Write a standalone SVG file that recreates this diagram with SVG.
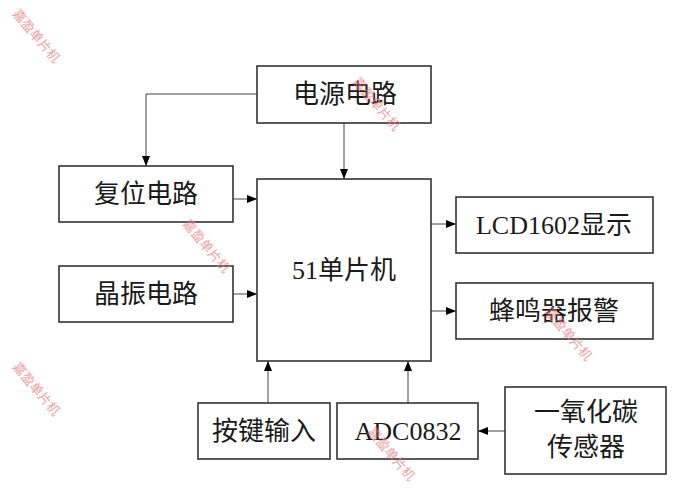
<svg xmlns="http://www.w3.org/2000/svg" width="692" height="498" viewBox="0 0 692 498">
<style>
.box{fill:#fff;stroke:#333;stroke-width:1.6}
.lbl{font-family:"Liberation Serif","Noto Sans CJK SC",serif;font-size:26px;fill:#1a1a1a;text-anchor:middle}
.conn{fill:none;stroke:#444;stroke-width:1}
.wm{font-family:"Noto Sans CJK SC",sans-serif;font-size:13px;fill:#e88080;opacity:0.75}
</style>
<defs>
<marker id="arr" viewBox="0 0 10 8" refX="10" refY="4" markerWidth="10" markerHeight="8" markerUnits="userSpaceOnUse" orient="auto">
<path d="M0,0 L10,4 L0,8 Z" fill="#000"/>
</marker>
</defs>
<rect width="692" height="498" fill="#fff"/>
<g id="connectors">
<path class="conn" d="M257,94 H146 V166" marker-end="url(#arr)"/>
<path class="conn" d="M344,123 V179" marker-end="url(#arr)"/>
<path class="conn" d="M233,199 H257" marker-end="url(#arr)"/>
<path class="conn" d="M233,294 H257" marker-end="url(#arr)"/>
<path class="conn" d="M431,224 H456" marker-end="url(#arr)"/>
<path class="conn" d="M431,311 H456" marker-end="url(#arr)"/>
<path class="conn" d="M268,403 V361" marker-end="url(#arr)"/>
<path class="conn" d="M408,403 V361" marker-end="url(#arr)"/>
<path class="conn" d="M505,431 H478" marker-end="url(#arr)"/>
</g>
<g id="power"><rect class="box" x="257" y="66" width="174" height="57"/><text class="lbl" x="345" y="103">电源电路</text></g>
<g id="reset"><rect class="box" x="59" y="166" width="174" height="56"/><text class="lbl" x="146" y="203">复位电路</text></g>
<g id="mcu"><rect class="box" x="257" y="179" width="174" height="182"/><text class="lbl" x="344" y="279">51单片机</text></g>
<g id="crystal"><rect class="box" x="59" y="266" width="174" height="56"/><text class="lbl" x="146" y="303">晶振电路</text></g>
<g id="lcd"><rect class="box" x="456" y="197" width="197" height="56"/><text class="lbl" x="554" y="234">LCD1602显示</text></g>
<g id="buzzer"><rect class="box" x="456" y="283" width="197" height="56"/><text class="lbl" x="554" y="320">蜂鸣器报警</text></g>
<g id="keys"><rect class="box" x="198" y="403" width="132" height="56"/><text class="lbl" x="264" y="440">按键输入</text></g>
<g id="adc"><rect class="box" x="337" y="403" width="141" height="56"/><text class="lbl" x="408" y="440">ADC0832</text></g>
<g id="sensor"><rect class="box" x="505" y="387" width="161" height="87"/><text class="lbl" x="586" y="421">一氧化碳</text><text class="lbl" x="586" y="456">传感器</text></g>
<g id="watermarks">
<text class="wm" transform="translate(12,14) rotate(50)">嘉盈单片机</text>
<text class="wm" transform="translate(352,82) rotate(50)">嘉盈单片机</text>
<text class="wm" transform="translate(182,224) rotate(50)">嘉盈单片机</text>
<text class="wm" transform="translate(12,367) rotate(50)">嘉盈单片机</text>
<text class="wm" transform="translate(544,312) rotate(50)">嘉盈单片机</text>
<text class="wm" transform="translate(367,432) rotate(50)">嘉盈单片机</text>
</g>
</svg>
